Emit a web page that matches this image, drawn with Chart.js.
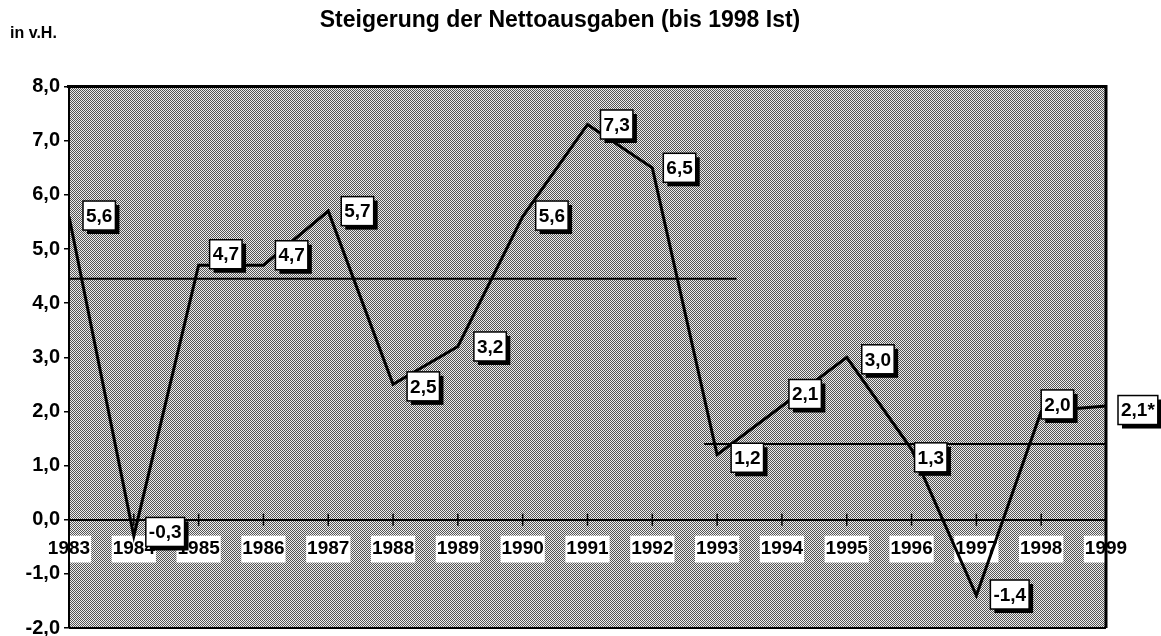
<!DOCTYPE html>
<html lang="de">
<head>
<meta charset="utf-8">
<title>Steigerung der Nettoausgaben</title>
<script src="https://cdn.jsdelivr.net/npm/chart.js@4.4.0/dist/chart.umd.min.js"></script>
<style>
  html, body { margin: 0; padding: 0; background: #fff; }
  #wrap { width: 1161px; height: 636px; }
</style>
</head>
<body>
<div id="wrap"><canvas id="chart"></canvas></div>
<script>
// Werte (in v.H.)
const years = [1983, 1984, 1985, 1986, 1987, 1988, 1989, 1990, 1991, 1992, 1993, 1994, 1995, 1996, 1997, 1998, 1999];
const growth = [5.6, -0.3, 4.7, 4.7, 5.7, 2.5, 3.2, 5.6, 7.3, 6.5, 1.2, 2.1, 3.0, 1.3, -1.4, 2.0, 2.1];
const estimatedYears = [1999];

// Durchschnittslinien der beiden Zeitraeume
const avgFirstSpan = [1983, 1993.3];
const avgFirstValue = 4.45;
const avgSecondSpan = [1992.8, 1999];
const avgSecondValue = 1.4;

const yMin = -2;
const yMax = 8;

// Lage der Wertekaestchen relativ zum Punkt (nur Layout)
const labelShift = [
    [14, -1], [12, -4], [11, -11], [12, -10], [13, 0], [14, 2], [16, 0], [13, -1], [13, 0],
    [11, 0], [14, 3], [7, -12], [15, 2], [3, 8], [14, -1], [0, -7], [12, 4]
];

const FONT = '"Liberation Sans", Arial, Helvetica, sans-serif';

function fmt(v) {
    return v.toFixed(1).replace('.', ',');
}

// Rasterhintergrund wie in der Vorlage
function makePattern(ctx) {
    const c = document.createElement('canvas');
    c.width = 2; c.height = 2;
    const p = c.getContext('2d');
    p.fillStyle = '#eeeeee';
    p.fillRect(0, 0, 2, 2);
    p.fillStyle = '#555555';
    p.fillRect(0, 0, 1, 1);
    p.fillRect(1, 1, 1, 1);
    return ctx.createPattern(c, 'repeat');
}

const frame = {
    id: 'frame',
    beforeDraw(chart) {
        const { ctx, chartArea: a } = chart;
        ctx.save();
        ctx.fillStyle = makePattern(ctx);
        ctx.fillRect(a.left, a.top, a.right - a.left, a.bottom - a.top);
        ctx.restore();
    },
    afterDatasetsDraw(chart) {
        const { ctx, chartArea: a } = chart;
        const xs = chart.scales.x;
        const y0 = chart.scales.y.getPixelForValue(0);
        ctx.save();
        ctx.strokeStyle = '#000';
        ctx.lineWidth = 1.5;
        // Teilstriche auf der Nulllinie
        years.forEach(yr => {
            const x = xs.getPixelForValue(yr);
            ctx.beginPath();
            ctx.moveTo(x, y0 - 6);
            ctx.lineTo(x, y0 + 6);
            ctx.stroke();
        });
        // Rahmen
        ctx.lineWidth = 3;
        ctx.beginPath();
        ctx.moveTo(a.left - 2, a.top);
        ctx.lineTo(a.right, a.top);
        ctx.lineTo(a.right, a.bottom);
        ctx.stroke();
        ctx.lineWidth = 2;
        ctx.beginPath();
        ctx.moveTo(a.left, a.bottom);
        ctx.lineTo(a.right, a.bottom);
        ctx.stroke();

        // Wertekaestchen
        const meta = chart.getDatasetMeta(0);
        ctx.font = 'bold 19px ' + FONT;
        ctx.textBaseline = 'middle';
        meta.data.forEach((pt, i) => {
            const text = fmt(growth[i]) + (estimatedYears.includes(years[i]) ? '*' : '');
            const [dx, dy] = labelShift[i];
            const w = ctx.measureText(text).width + 6;
            const h = 29;
            const x = pt.x + dx;
            const y = pt.y + dy - h / 2;
            ctx.fillStyle = '#000';
            ctx.fillRect(x + 4, y + 4, w, h);
            ctx.fillStyle = '#fff';
            ctx.fillRect(x, y, w, h);
            ctx.lineWidth = 1.5;
            ctx.strokeRect(x, y, w, h);
            ctx.fillStyle = '#000';
            ctx.fillText(text, x + 3, y + h / 2 + 1);
        });
        ctx.restore();
    },
    afterDraw(chart) {
        const ctx = chart.ctx;
        ctx.save();
        ctx.fillStyle = '#000';
        ctx.font = 'bold 16px ' + FONT;
        ctx.textBaseline = 'middle';
        ctx.fillText('in v.H.', 10, 34);
        ctx.restore();
    }
};

const ctx = document.getElementById('chart').getContext('2d');
new Chart(ctx, {
    type: 'line',
    data: {
        datasets: [
            {
                data: years.map((yr, i) => ({ x: yr, y: growth[i] })),
                borderColor: '#000',
                borderWidth: 3,
                pointRadius: 0,
                tension: 0
            },
            {
                data: avgFirstSpan.map(x => ({ x: x, y: avgFirstValue })),
                borderColor: '#000',
                borderWidth: 2,
                pointRadius: 0
            },
            {
                data: avgSecondSpan.map(x => ({ x: x, y: avgSecondValue })),
                borderColor: '#000',
                borderWidth: 2,
                pointRadius: 0
            }
        ]
    },
    options: {
        responsive: true,
        maintainAspectRatio: false,
        animation: false,
        layout: { padding: { top: 0, right: 55, bottom: 8, left: 14 } },
        plugins: {
            legend: { display: false },
            tooltip: { enabled: false },
            title: {
                display: true,
                text: 'Steigerung der Nettoausgaben (bis 1998 Ist)',
                color: '#000',
                font: { family: FONT, size: 23, weight: 'bold' },
                padding: { top: 7, bottom: 52 }
            }
        },
        scales: {
            x: {
                type: 'linear',
                position: { y: 0 },
                min: years[0],
                max: years[years.length - 1],
                z: 1,
                grid: { display: false },
                border: { display: true, color: '#000', width: 2 },
                ticks: {
                    stepSize: 1,
                    autoSkip: false,
                    maxRotation: 0,
                    color: '#000',
                    padding: 10,
                    font: { family: FONT, size: 19, weight: 'bold' },
                    showLabelBackdrop: true,
                    backdropColor: '#fff',
                    backdropPadding: { x: 1, y: 2 },
                    callback: v => String(v)
                }
            },
            y: {
                min: yMin,
                max: yMax,
                afterFit: s => { s.width = 55; s.paddingTop = 0; s.paddingBottom = 0; },
                grid: { drawOnChartArea: false, color: '#000', lineWidth: 1.5, tickLength: 5 },
                border: { color: '#000', width: 2 },
                ticks: {
                    stepSize: 1,
                    color: '#000',
                    padding: 4,
                    font: { family: FONT, size: 20, weight: 'bold' },
                    callback: v => fmt(v)
                }
            }
        }
    },
    plugins: [frame]
});
</script>
</body>
</html>
